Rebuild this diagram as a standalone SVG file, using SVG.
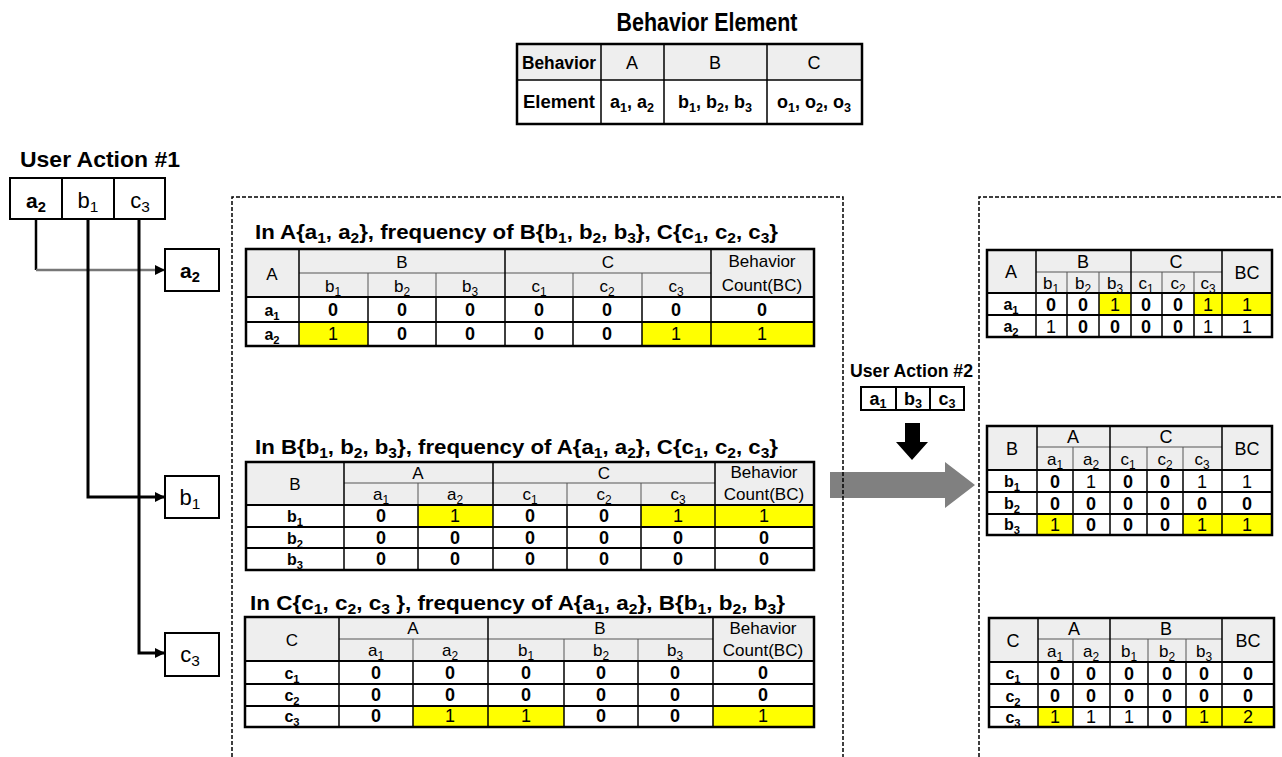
<svg xmlns="http://www.w3.org/2000/svg" width="1282" height="757" viewBox="0 0 1282 757">
<style>
text{font-family:"Liberation Sans",Arial,sans-serif;fill:#000;text-anchor:middle}
.s{font-size:70%}
.hd{font-size:17px}
.hd2{font-size:18px}
.v{font-size:18px;font-weight:bold}
.v1{font-size:18px}
.rl{font-size:16px;font-weight:bold}
.ti{font-size:21px;font-weight:bold;text-anchor:start}
.ol{fill:none;stroke:#000;stroke-width:2.5}
.bl{fill:none;stroke:#000;stroke-width:1.5}
.tl{fill:none;stroke:#555;stroke-width:1}
.hb{fill:#eeeeee}
.yl{fill:#ffff00}
.dash{fill:none;stroke:#000;stroke-width:1.5;stroke-dasharray:4 2}
.cn{fill:none;stroke:#000;stroke-width:3}
.bx{fill:#fff;stroke:#000;stroke-width:2}
</style>
<defs>
<marker id="ah" markerWidth="10" markerHeight="10" refX="9" refY="5" orient="auto" markerUnits="userSpaceOnUse">
<path d="M0,0 L10,5 L0,10 Z" fill="#000"/>
</marker>
</defs>
<rect width="1282" height="757" fill="#fff"/>

<!-- Behavior Element table -->
<g id="behavior-element">
<text x="707" y="31" style="font-size:25px;font-weight:bold" textLength="181" lengthAdjust="spacingAndGlyphs">Behavior Element</text>
<rect x="517" y="44" width="345" height="36" class="hb"/>
<rect x="517" y="44" width="345" height="80" class="ol"/>
<path class="bl" d="M517,80H862 M601,44V124 M664,44V124 M767,44V124"/>
<text x="559" y="69" style="font-size:18px;font-weight:bold" textLength="74" lengthAdjust="spacingAndGlyphs">Behavior</text>
<text x="632" y="69" class="hd2">A</text>
<text x="715" y="69" class="hd2">B</text>
<text x="814" y="69" class="hd2">C</text>
<text x="559" y="108" style="font-size:18px;font-weight:bold" textLength="72" lengthAdjust="spacingAndGlyphs">Element</text>
<text x="632" y="108" style="font-size:18px;font-weight:bold">a<tspan class="s" dy="4">1</tspan><tspan dy="-4">, a</tspan><tspan class="s" dy="4">2</tspan></text>
<text x="715" y="108" style="font-size:18px;font-weight:bold">b<tspan class="s" dy="4">1</tspan><tspan dy="-4">, b</tspan><tspan class="s" dy="4">2</tspan><tspan dy="-4">, b</tspan><tspan class="s" dy="4">3</tspan></text>
<text x="814" y="108" style="font-size:18px;font-weight:bold">o<tspan class="s" dy="4">1</tspan><tspan dy="-4">, o</tspan><tspan class="s" dy="4">2</tspan><tspan dy="-4">, o</tspan><tspan class="s" dy="4">3</tspan></text>
</g>

<!-- User Action #1 -->
<g id="user-action-1">
<text x="20" y="167" style="font-size:22px;font-weight:bold;text-anchor:start" textLength="160" lengthAdjust="spacingAndGlyphs">User Action #1</text>
<rect x="10" y="178" width="155" height="41" class="bx"/>
<path class="cn" style="stroke-width:2" d="M62,178V219 M114,178V219"/>
<text x="36" y="208" style="font-size:21px;font-weight:bold">a<tspan class="s" dy="4">2</tspan></text>
<text x="88" y="208" style="font-size:22px">b<tspan class="s" dy="4">1</tspan></text>
<text x="140" y="208" style="font-size:22px">c<tspan class="s" dy="4">3</tspan></text>
</g>

<g id="node-a2">
<rect x="165" y="249" width="54" height="42" class="bx"/>
<text x="190" y="278" style="font-size:21px;font-weight:bold">a<tspan class="s" dy="4">2</tspan></text>
</g>
<g id="node-b1">
<rect x="165" y="476" width="54" height="42" class="bx"/>
<text x="190" y="505" style="font-size:22px">b<tspan class="s" dy="4">1</tspan></text>
</g>
<g id="node-c3">
<rect x="165" y="633" width="54" height="43" class="bx"/>
<text x="190" y="662" style="font-size:22px">c<tspan class="s" dy="4">3</tspan></text>
</g>

<g id="connectors">
<path class="cn" style="stroke-width:2.5" d="M36,219V270"/>
<path fill="none" stroke="#777" stroke-width="2.5" d="M36,270H164" marker-end="url(#ah)"/>
<path class="cn" d="M88,219V497H164" marker-end="url(#ah)"/>
<path class="cn" d="M139,219V653H164" marker-end="url(#ah)"/>
<polygon points="830,472 945,472 945,462 975,485 945,508 945,498 830,498" fill="#808080"/>
<polygon points="905,423 920,423 920,442 928,442 912,460 896,442 905,442" fill="#000"/>
</g>

<!-- dashed frames -->
<g id="frames">
<path class="dash" d="M232,757V197H843V757"/>
<path class="dash" d="M979,757V197H1282"/>
</g>

<!-- User Action #2 -->
<g id="user-action-2">
<text x="850" y="377" style="font-size:19px;font-weight:bold;text-anchor:start" textLength="123" lengthAdjust="spacingAndGlyphs">User Action #2</text>
<rect x="861" y="387" width="103" height="23" class="bx"/>
<path class="cn" style="stroke-width:2" d="M896,387V410 M930,387V410"/>
<text x="878" y="405" style="font-size:18px;font-weight:bold">a<tspan class="s" dy="3">1</tspan></text>
<text x="913" y="405" style="font-size:18px;font-weight:bold">b<tspan class="s" dy="3">3</tspan></text>
<text x="947" y="405" style="font-size:18px;font-weight:bold">c<tspan class="s" dy="3">3</tspan></text>
</g>

<!-- Table A -->
<g id="table-a">
<text x="255" y="239" class="ti" textLength="523" lengthAdjust="spacingAndGlyphs">In A{a<tspan class="s" dy="4">1</tspan><tspan dy="-4">, a</tspan><tspan class="s" dy="4">2</tspan><tspan dy="-4">}, frequency of B{b</tspan><tspan class="s" dy="4">1</tspan><tspan dy="-4">, b</tspan><tspan class="s" dy="4">2</tspan><tspan dy="-4">, b</tspan><tspan class="s" dy="4">3</tspan><tspan dy="-4">}, C{c</tspan><tspan class="s" dy="4">1</tspan><tspan dy="-4">, c</tspan><tspan class="s" dy="4">2</tspan><tspan dy="-4">, c</tspan><tspan class="s" dy="4">3</tspan><tspan dy="-4">}</tspan></text>
<rect x="246" y="249" width="568" height="48" class="hb"/>
<rect x="299" y="322" width="69" height="24" class="yl"/>
<rect x="642" y="322" width="172" height="24" class="yl"/>
<path class="tl" d="M299,273H711 M368,273V297 M436,273V297 M573,273V297 M642,273V297"/>
<path class="bl" d="M299,249V346 M505,249V346 M711,249V346 M368,297V346 M436,297V346 M573,297V346 M642,297V346"/>
<path class="bl" style="stroke-width:2" d="M246,297H814 M246,322H814"/>
<rect x="246" y="249" width="568" height="97" class="ol"/>
<text x="272" y="280" class="hd">A</text>
<text x="402" y="268" class="hd">B</text>
<text x="608" y="268" class="hd">C</text>
<text x="762" y="267" class="hd">Behavior</text>
<text x="762" y="291" class="hd">Count(BC)</text>
<text x="333" y="292" class="hd">b<tspan class="s" dy="4">1</tspan></text>
<text x="402" y="292" class="hd">b<tspan class="s" dy="4">2</tspan></text>
<text x="470" y="292" class="hd">b<tspan class="s" dy="4">3</tspan></text>
<text x="539" y="292" class="hd">c<tspan class="s" dy="4">1</tspan></text>
<text x="607" y="292" class="hd">c<tspan class="s" dy="4">2</tspan></text>
<text x="676" y="292" class="hd">c<tspan class="s" dy="4">3</tspan></text>
<text x="272" y="316" class="rl">a<tspan class="s" dy="4">1</tspan></text>
<text x="272" y="340" class="rl">a<tspan class="s" dy="4">2</tspan></text>
<text x="333" y="316" class="v">0</text><text x="402" y="316" class="v">0</text><text x="470" y="316" class="v">0</text><text x="539" y="316" class="v">0</text><text x="607" y="316" class="v">0</text><text x="676" y="316" class="v">0</text><text x="762" y="316" class="v">0</text>
<text x="333" y="340" class="v1">1</text><text x="402" y="340" class="v">0</text><text x="470" y="340" class="v">0</text><text x="539" y="340" class="v">0</text><text x="607" y="340" class="v">0</text><text x="676" y="340" class="v1">1</text><text x="762" y="340" class="v1">1</text>
</g>

<!-- Table B -->
<g id="table-b">
<text x="255" y="454" class="ti" textLength="523" lengthAdjust="spacingAndGlyphs">In B{b<tspan class="s" dy="4">1</tspan><tspan dy="-4">, b</tspan><tspan class="s" dy="4">2</tspan><tspan dy="-4">, b</tspan><tspan class="s" dy="4">3</tspan><tspan dy="-4">}, frequency of A{a</tspan><tspan class="s" dy="4">1</tspan><tspan dy="-4">, a</tspan><tspan class="s" dy="4">2</tspan><tspan dy="-4">}, C{c</tspan><tspan class="s" dy="4">1</tspan><tspan dy="-4">, c</tspan><tspan class="s" dy="4">2</tspan><tspan dy="-4">, c</tspan><tspan class="s" dy="4">3</tspan><tspan dy="-4">}</tspan></text>
<rect x="246" y="462" width="568" height="43" class="hb"/>
<rect x="418" y="505" width="75" height="22" class="yl"/>
<rect x="641" y="505" width="173" height="22" class="yl"/>
<path class="tl" d="M344,483H715 M418,483V505 M567,483V505 M641,483V505"/>
<path class="bl" d="M344,462V570 M493,462V570 M715,462V570 M418,505V570 M567,505V570 M641,505V570"/>
<path class="bl" style="stroke-width:2" d="M246,505H814 M246,527H814 M246,548H814"/>
<rect x="246" y="462" width="568" height="108" class="ol"/>
<text x="295" y="490" class="hd">B</text>
<text x="418" y="479" class="hd">A</text>
<text x="604" y="479" class="hd">C</text>
<text x="764" y="478" class="hd">Behavior</text>
<text x="764" y="500" class="hd">Count(BC)</text>
<text x="381" y="500" class="hd">a<tspan class="s" dy="4">1</tspan></text>
<text x="455" y="500" class="hd">a<tspan class="s" dy="4">2</tspan></text>
<text x="530" y="500" class="hd">c<tspan class="s" dy="4">1</tspan></text>
<text x="604" y="500" class="hd">c<tspan class="s" dy="4">2</tspan></text>
<text x="678" y="500" class="hd">c<tspan class="s" dy="4">3</tspan></text>
<text x="295" y="522" class="rl">b<tspan class="s" dy="4">1</tspan></text>
<text x="295" y="544" class="rl">b<tspan class="s" dy="4">2</tspan></text>
<text x="295" y="565" class="rl">b<tspan class="s" dy="4">3</tspan></text>
<text x="381" y="522" class="v">0</text><text x="455" y="522" class="v1">1</text><text x="530" y="522" class="v">0</text><text x="604" y="522" class="v">0</text><text x="678" y="522" class="v1">1</text><text x="764" y="522" class="v1">1</text>
<text x="381" y="544" class="v">0</text><text x="455" y="544" class="v">0</text><text x="530" y="544" class="v">0</text><text x="604" y="544" class="v">0</text><text x="678" y="544" class="v">0</text><text x="764" y="544" class="v">0</text>
<text x="381" y="565" class="v">0</text><text x="455" y="565" class="v">0</text><text x="530" y="565" class="v">0</text><text x="604" y="565" class="v">0</text><text x="678" y="565" class="v">0</text><text x="764" y="565" class="v">0</text>
</g>

<!-- Table C -->
<g id="table-c">
<text x="250" y="610" class="ti" textLength="535" lengthAdjust="spacingAndGlyphs">In C{c<tspan class="s" dy="4">1</tspan><tspan dy="-4">, c</tspan><tspan class="s" dy="4">2</tspan><tspan dy="-4">, c</tspan><tspan class="s" dy="4">3</tspan><tspan dy="-4"> }, frequency of A{a</tspan><tspan class="s" dy="4">1</tspan><tspan dy="-4">, a</tspan><tspan class="s" dy="4">2</tspan><tspan dy="-4">}, B{b</tspan><tspan class="s" dy="4">1</tspan><tspan dy="-4">, b</tspan><tspan class="s" dy="4">2</tspan><tspan dy="-4">, b</tspan><tspan class="s" dy="4">3</tspan><tspan dy="-4">}</tspan></text>
<rect x="245" y="617" width="569" height="44" class="hb"/>
<rect x="413" y="706" width="151" height="21" class="yl"/>
<rect x="713" y="706" width="101" height="21" class="yl"/>
<path class="tl" d="M339,639H713 M413,639V661 M564,639V661 M638,639V661"/>
<path class="bl" d="M339,617V727 M488,617V727 M713,617V727 M413,661V727 M564,661V727 M638,661V727"/>
<path class="bl" style="stroke-width:2" d="M245,661H814 M245,684H814 M245,706H814"/>
<rect x="245" y="617" width="569" height="110" class="ol"/>
<text x="292" y="646" class="hd">C</text>
<text x="413" y="634" class="hd">A</text>
<text x="600" y="634" class="hd">B</text>
<text x="763" y="634" class="hd">Behavior</text>
<text x="763" y="656" class="hd">Count(BC)</text>
<text x="376" y="656" class="hd">a<tspan class="s" dy="4">1</tspan></text>
<text x="450" y="656" class="hd">a<tspan class="s" dy="4">2</tspan></text>
<text x="526" y="656" class="hd">b<tspan class="s" dy="4">1</tspan></text>
<text x="601" y="656" class="hd">b<tspan class="s" dy="4">2</tspan></text>
<text x="675" y="656" class="hd">b<tspan class="s" dy="4">3</tspan></text>
<text x="292" y="679" class="rl">c<tspan class="s" dy="4">1</tspan></text>
<text x="292" y="701" class="rl">c<tspan class="s" dy="4">2</tspan></text>
<text x="292" y="722" class="rl">c<tspan class="s" dy="4">3</tspan></text>
<text x="376" y="679" class="v">0</text><text x="450" y="679" class="v">0</text><text x="526" y="679" class="v">0</text><text x="601" y="679" class="v">0</text><text x="675" y="679" class="v">0</text><text x="763" y="679" class="v">0</text>
<text x="376" y="701" class="v">0</text><text x="450" y="701" class="v">0</text><text x="526" y="701" class="v">0</text><text x="601" y="701" class="v">0</text><text x="675" y="701" class="v">0</text><text x="763" y="701" class="v">0</text>
<text x="376" y="722" class="v">0</text><text x="450" y="722" class="v1">1</text><text x="526" y="722" class="v1">1</text><text x="601" y="722" class="v">0</text><text x="675" y="722" class="v">0</text><text x="763" y="722" class="v1">1</text>
</g>

<!-- Right table A -->
<g id="result-a">
<rect x="987" y="250" width="285" height="43" class="hb"/>
<rect x="1099" y="293" width="32" height="22" class="yl"/>
<rect x="1194" y="293" width="78" height="22" class="yl"/>
<path class="tl" d="M1036,272H1222 M1067,272V293 M1099,272V293 M1162,272V293 M1194,272V293"/>
<path class="bl" d="M1036,250V337 M1131,250V337 M1222,250V337 M1067,293V337 M1099,293V337 M1162,293V337 M1194,293V337"/>
<path class="bl" style="stroke-width:2" d="M987,293H1272 M987,315H1272"/>
<rect x="987" y="250" width="285" height="87" class="ol"/>
<text x="1011" y="278" class="hd2">A</text>
<text x="1083" y="268" class="hd2">B</text>
<text x="1176" y="268" class="hd2">C</text>
<text x="1247" y="279" class="hd2">BC</text>
<text x="1051" y="289" class="hd">b<tspan class="s" dy="4">1</tspan></text>
<text x="1083" y="289" class="hd">b<tspan class="s" dy="4">2</tspan></text>
<text x="1115" y="289" class="hd">b<tspan class="s" dy="4">3</tspan></text>
<text x="1146" y="289" class="hd">c<tspan class="s" dy="4">1</tspan></text>
<text x="1178" y="289" class="hd">c<tspan class="s" dy="4">2</tspan></text>
<text x="1208" y="289" class="hd">c<tspan class="s" dy="4">3</tspan></text>
<text x="1011" y="310" class="rl">a<tspan class="s" dy="4">1</tspan></text>
<text x="1011" y="332" class="rl">a<tspan class="s" dy="4">2</tspan></text>
<text x="1051" y="311" class="v">0</text><text x="1083" y="311" class="v">0</text><text x="1115" y="311" class="v1">1</text><text x="1146" y="311" class="v">0</text><text x="1178" y="311" class="v">0</text><text x="1208" y="311" class="v1">1</text><text x="1247" y="311" class="v1">1</text>
<text x="1051" y="333" class="v1">1</text><text x="1083" y="333" class="v">0</text><text x="1115" y="333" class="v">0</text><text x="1146" y="333" class="v">0</text><text x="1178" y="333" class="v">0</text><text x="1208" y="333" class="v1">1</text><text x="1247" y="333" class="v1">1</text>
</g>

<!-- Right table B -->
<g id="result-b">
<rect x="987" y="426" width="285" height="44" class="hb"/>
<rect x="1037" y="514" width="36" height="21" class="yl"/>
<rect x="1183" y="514" width="89" height="21" class="yl"/>
<path class="tl" d="M1037,447H1222 M1073,447V470 M1147,447V470 M1183,447V470"/>
<path class="bl" d="M1037,426V535 M1110,426V535 M1222,426V535 M1073,470V535 M1147,470V535 M1183,470V535"/>
<path class="bl" style="stroke-width:2" d="M987,470H1272 M987,492H1272 M987,514H1272"/>
<rect x="987" y="426" width="285" height="109" class="ol"/>
<text x="1012" y="455" class="hd2">B</text>
<text x="1073" y="443" class="hd2">A</text>
<text x="1166" y="443" class="hd2">C</text>
<text x="1247" y="455" class="hd2">BC</text>
<text x="1055" y="465" class="hd">a<tspan class="s" dy="4">1</tspan></text>
<text x="1091" y="465" class="hd">a<tspan class="s" dy="4">2</tspan></text>
<text x="1128" y="465" class="hd">c<tspan class="s" dy="4">1</tspan></text>
<text x="1165" y="465" class="hd">c<tspan class="s" dy="4">2</tspan></text>
<text x="1202" y="465" class="hd">c<tspan class="s" dy="4">3</tspan></text>
<text x="1012" y="487" class="rl">b<tspan class="s" dy="4">1</tspan></text>
<text x="1012" y="509" class="rl">b<tspan class="s" dy="4">2</tspan></text>
<text x="1012" y="530" class="rl">b<tspan class="s" dy="4">3</tspan></text>
<text x="1055" y="488" class="v">0</text><text x="1091" y="488" class="v1">1</text><text x="1128" y="488" class="v">0</text><text x="1165" y="488" class="v">0</text><text x="1202" y="488" class="v1">1</text><text x="1247" y="488" class="v1">1</text>
<text x="1055" y="510" class="v">0</text><text x="1091" y="510" class="v">0</text><text x="1128" y="510" class="v">0</text><text x="1165" y="510" class="v">0</text><text x="1202" y="510" class="v">0</text><text x="1247" y="510" class="v">0</text>
<text x="1055" y="531" class="v1">1</text><text x="1091" y="531" class="v">0</text><text x="1128" y="531" class="v">0</text><text x="1165" y="531" class="v">0</text><text x="1202" y="531" class="v1">1</text><text x="1247" y="531" class="v1">1</text>
</g>

<!-- Right table C -->
<g id="result-c">
<rect x="989" y="618" width="285" height="44" class="hb"/>
<rect x="1038" y="707" width="35" height="20" class="yl"/>
<rect x="1186" y="707" width="88" height="20" class="yl"/>
<path class="tl" d="M1038,639H1222 M1073,639V662 M1148,639V662 M1186,639V662"/>
<path class="bl" d="M1038,618V727 M1110,618V727 M1222,618V727 M1073,662V727 M1148,662V727 M1186,662V727"/>
<path class="bl" style="stroke-width:2" d="M989,662H1274 M989,684H1274 M989,707H1274"/>
<rect x="989" y="618" width="285" height="109" class="ol"/>
<text x="1013" y="647" class="hd2">C</text>
<text x="1074" y="635" class="hd2">A</text>
<text x="1166" y="635" class="hd2">B</text>
<text x="1248" y="647" class="hd2">BC</text>
<text x="1055" y="657" class="hd">a<tspan class="s" dy="4">1</tspan></text>
<text x="1091" y="657" class="hd">a<tspan class="s" dy="4">2</tspan></text>
<text x="1129" y="657" class="hd">b<tspan class="s" dy="4">1</tspan></text>
<text x="1167" y="657" class="hd">b<tspan class="s" dy="4">2</tspan></text>
<text x="1204" y="657" class="hd">b<tspan class="s" dy="4">3</tspan></text>
<text x="1013" y="679" class="rl">c<tspan class="s" dy="4">1</tspan></text>
<text x="1013" y="702" class="rl">c<tspan class="s" dy="4">2</tspan></text>
<text x="1013" y="723" class="rl">c<tspan class="s" dy="4">3</tspan></text>
<text x="1055" y="680" class="v">0</text><text x="1091" y="680" class="v">0</text><text x="1129" y="680" class="v">0</text><text x="1167" y="680" class="v">0</text><text x="1204" y="680" class="v">0</text><text x="1248" y="680" class="v">0</text>
<text x="1055" y="702" class="v">0</text><text x="1091" y="702" class="v">0</text><text x="1129" y="702" class="v">0</text><text x="1167" y="702" class="v">0</text><text x="1204" y="702" class="v">0</text><text x="1248" y="702" class="v">0</text>
<text x="1055" y="723" class="v1">1</text><text x="1091" y="723" class="v1">1</text><text x="1129" y="723" class="v1">1</text><text x="1167" y="723" class="v">0</text><text x="1204" y="723" class="v1">1</text><text x="1248" y="723" class="v1">2</text>
</g>
</svg>
